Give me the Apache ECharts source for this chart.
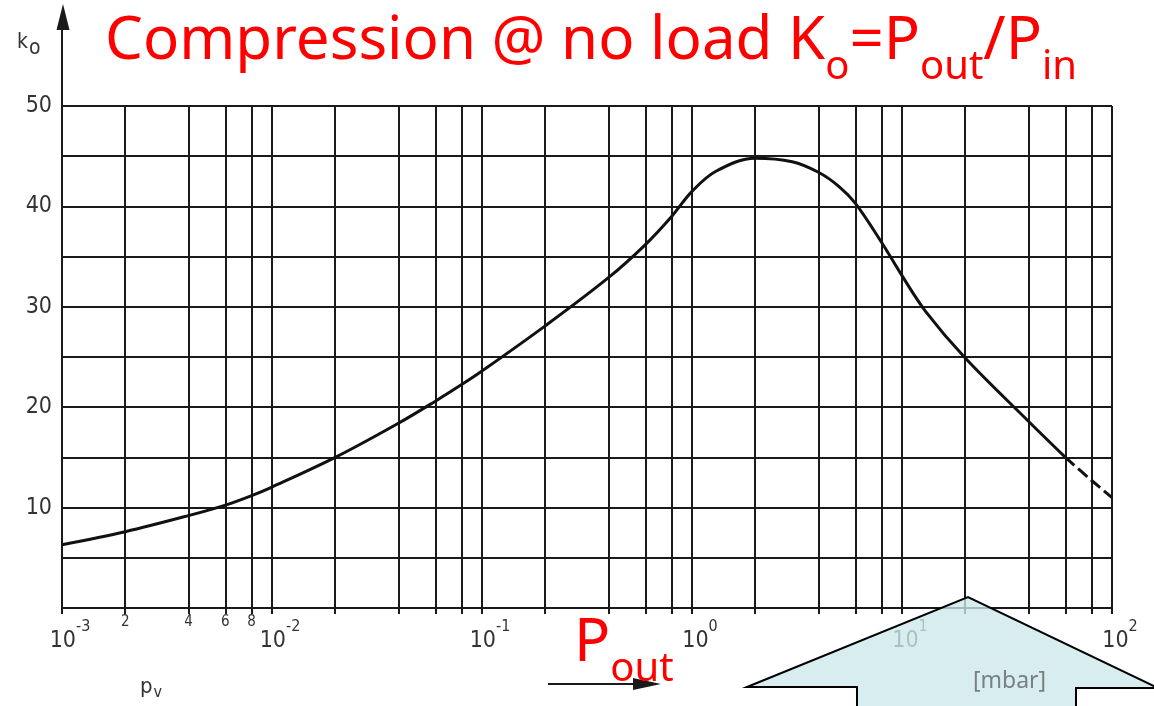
<!DOCTYPE html>
<html>
<head>
<meta charset="utf-8">
<script src="https://cdn.jsdelivr.net/npm/echarts@6/dist/echarts.min.js"></script>
<style>
  html, body { margin: 0; padding: 0; background: #fff; }
  #chart { width: 1154px; height: 706px; }
</style>
</head>
<body>
<div id="chart"></div>
<script>
// p_v [mbar] -> k_o
const pressure = [0.001, 0.002, 0.004, 0.006, 0.008, 0.01, 0.02, 0.04, 0.06, 0.08,
  0.1, 0.2, 0.4, 0.6, 0.8, 1, 1.3, 2, 3, 4, 5, 6, 8, 10, 13, 20, 40, 60];
const k0 = [6.3, 7.6, 9.2, 10.25, 11.2, 12.05, 15.0, 18.4, 20.6, 22.25,
  23.6, 28.1, 32.9, 36.2, 39.0, 41.5, 43.5, 44.8, 44.45, 43.4, 42.0, 40.3, 36.4, 33.1, 29.5, 24.9, 18.6, 15.0];
// dashed tail
const pressureTail = [60, 80, 100];
const k0Tail = [15.0, 12.7, 11.0];

// grid lines: 1,2,4,6,8 in every decade
const decades = [-3, -2, -1, 0, 1];
const steps = [1, 2, 4, 6, 8];
const lastDecade = 2;

const gridValues = [];
decades.forEach(d => steps.forEach(s => gridValues.push(Math.log10(s) + d)));
gridValues.push(lastDecade);

const ink = '#1a1a1a';
const labelGray = '#333';
const red = '#ff0000';

const chart = echarts.init(document.getElementById('chart'));

chart.setOption({
  animation: false,
  title: {
    left: 100,
    top: 7,
    text: '{a|Compression @ no load K}{s|o}{a|=P}{s|out}{a|/P}{s|in}',
    textStyle: {
      rich: {
        a: { fontFamily: 'Noto Sans', fontWeight: 'normal', fontSize: 60, color: red, verticalAlign: 'top' },
        s: { fontFamily: 'Noto Sans', fontWeight: 'normal', fontSize: 40, color: red, verticalAlign: 'top', padding: [36, 0, 0, 0] }
      }
    }
  },
  grid: {
    left: 62, right: 42, top: 106, bottom: 98,
    containLabel: false,
    outerBoundsMode: 'none'
  },
  xAxis: [{
    type: 'log',
    logBase: 10,
    min: 0.001,
    max: 100,
    show: false
  }, {
    // linear in log10(p), carries the printed grid
    type: 'value',
    min: -3,
    max: 2,
    position: 'bottom',
    axisLine: { show: true, lineStyle: { color: ink, width: 2 } },
    axisTick: {
      show: true, length: 6, customValues: gridValues,
      lineStyle: { color: ink, width: 2 }
    },
    splitLine: { show: true, lineStyle: { color: ink, width: 2 } },
    axisLabel: {
      customValues: gridValues,
      margin: 7,
      formatter: function (v) {
        const d = Math.floor(v + 1e-9);
        const m = Math.round(Math.pow(10, v - d));
        if (m === 1) return '{b|10}{s|' + d + '}';
        if (d === -3) return '{d|' + m + '}';
        return '';
      },
      rich: {
        d: { fontFamily: 'DejaVu Sans Condensed', fontSize: 15, color: labelGray },
        b: { fontFamily: 'DejaVu Sans Condensed', fontSize: 23, color: labelGray, padding: [15, 0, 0, 16] },
        s: { fontFamily: 'DejaVu Sans Condensed', fontSize: 16, color: labelGray, verticalAlign: 'top', padding: [4, 0, 0, 0] }
      }
    }
  }],
  yAxis: {
    type: 'value',
    min: 0,
    max: 50,
    interval: 5,
    axisLine: { show: true, lineStyle: { color: ink, width: 2 } },
    axisTick: { show: true, length: 5, lineStyle: { color: ink, width: 2 } },
    splitLine: { show: true, lineStyle: { color: ink, width: 2 } },
    axisLabel: {
      margin: 10,
      fontFamily: 'DejaVu Sans Condensed',
      fontSize: 23,
      color: labelGray,
      formatter: v => (v === 0 || v % 10 !== 0) ? '' : String(v)
    }
  },
  series: [{
    type: 'line',
    xAxisIndex: 0,
    data: pressure.map((p, i) => [p, k0[i]]),
    symbol: 'none',
    smooth: 0.35,
    lineStyle: { color: '#111', width: 3 },
    z: 5
  }, {
    type: 'line',
    xAxisIndex: 0,
    data: pressureTail.map((p, i) => [p, k0Tail[i]]),
    symbol: 'none',
    smooth: 0.35,
    lineStyle: { color: '#111', width: 3, type: [12, 5] },
    z: 5
  }],
  graphic: [
    // y axis runs on up to an arrow
    { type: 'line', shape: { x1: 62, y1: 106, x2: 62, y2: 28 }, style: { stroke: ink, lineWidth: 2 } },
    { type: 'polygon', shape: { points: [[63, 4], [56.5, 30], [69.5, 30]] }, style: { fill: ink } },
    {
      type: 'text', left: 17, top: 32,
      style: {
        text: '{k|k}{o|o}',
        rich: {
          k: { fontFamily: 'DejaVu Sans Condensed', fontSize: 21, fill: labelGray },
          o: { fontFamily: 'DejaVu Sans Condensed', fontSize: 21, fill: labelGray, padding: [12, 0, 0, 1] }
        }
      }
    },
    {
      type: 'text', left: 140, top: 676,
      style: {
        text: '{p|p}{v|v}',
        rich: {
          p: { fontFamily: 'DejaVu Sans Condensed', fontSize: 22, fill: labelGray },
          v: { fontFamily: 'DejaVu Sans Condensed', fontSize: 16, fill: labelGray, padding: [12, 0, 0, 1] }
        }
      }
    },
    { type: 'line', shape: { x1: 548, y1: 684, x2: 640, y2: 684 }, style: { stroke: ink, lineWidth: 2 } },
    { type: 'polygon', shape: { points: [[661, 684], [633, 678], [633, 690]] }, style: { fill: ink } },
    {
      type: 'text', left: 574, top: 614, z: 10,
      style: {
        text: '{a|P}{s|out}',
        rich: {
          a: { fontFamily: 'Noto Sans', fontSize: 60, fill: red, verticalAlign: 'top' },
          s: { fontFamily: 'Noto Sans', fontSize: 40, fill: red, verticalAlign: 'top', padding: [36, 0, 0, 0] }
        }
      }
    },
    {
      type: 'polygon', z: 20,
      shape: { points: [[747, 687], [968, 597], [1158, 688], [1076, 688], [1076, 712], [857, 712], [857, 687]] },
      style: { fill: 'rgba(204,232,236,0.78)', stroke: '#000', lineWidth: 2 }
    },
    {
      type: 'text', left: 973, top: 670, z: 21,
      style: { text: '[mbar]', fontFamily: 'Noto Sans', fontSize: 23, fill: '#7a8080' }
    }
  ]
});
</script>
</body>
</html>
